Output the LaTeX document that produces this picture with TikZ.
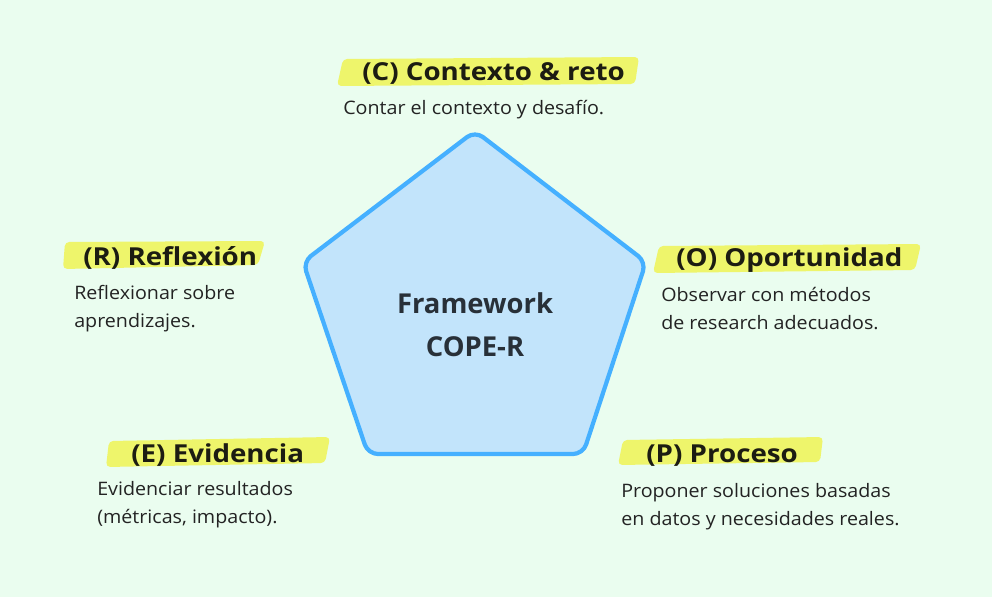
\documentclass[tikz,border=0pt]{standalone}
\usepackage{fontspec}
\setmainfont{Open Sans}
\newfontfamily\headfont{Open Sans}[FakeStretch=1.12]
\newfontfamily\bodyfont{Open Sans}[FakeStretch=1.06]
\definecolor{bgmint}{HTML}{EAFDEF}
\definecolor{pentfill}{HTML}{C2E4FB}
\definecolor{pentline}{HTML}{45B0FF}
\definecolor{marker}{HTML}{EEF56B}
\definecolor{inkdark}{HTML}{1C1C12}
\definecolor{inkdesc}{HTML}{232323}
\definecolor{inkcore}{HTML}{283038}

\begin{document}
\begin{tikzpicture}[x=0.025cm,y=-0.025cm,
  hilite/.style={fill=marker,rounded corners=3pt},
  steptitle/.style={font=\headfont\fontsize{17.6}{19}\selectfont\bfseries,text=inkdark,anchor=base west,inner sep=0pt},
  stepdesc/.style={font=\bodyfont\fontsize{13.2}{19.6}\selectfont,text=inkdesc,anchor=base west,align=left,inner sep=0pt},
  coretext/.style={font=\fontsize{19.5}{31}\selectfont\bfseries,text=inkcore,align=center,inner sep=0pt}]
\fill[bgmint] (0,0) rectangle (992,597);
% pentagon
\draw[fill=pentfill,draw=pentline,line width=3pt,rounded corners=7pt,line join=round]
  (475,131) -- (646,262) -- (583,454) -- (368,454) -- (303,262) -- cycle;
\node[coretext,anchor=base] (core) at (475,313) {Framework};
\node[coretext,anchor=base] (corer) at (475,356) {COPE-R};
% (C)
\fill[hilite] (343,59) -- (639,57) -- (635,84) -- (337,86) -- cycle;
\node[steptitle] (ctitle) at (362,81) {(C) Contexto \& reto};
\node[stepdesc] (cdesc) at (343,115) {Contar el contexto y desafío.};
% (R) -- multi-line nodes sit on their last baseline
\fill[hilite] (65,242) -- (265,241) -- (258,265) -- (63,269) -- cycle;
\node[steptitle] (rtitle) at (83,265) {(R) Reflexión};
\node[stepdesc] (rdesc) at (74,327) {Reflexionar sobre\\aprendizajes.};
% (O)
\fill[hilite] (659,246) -- (921,244) -- (915,270) -- (653,273) -- cycle;
\node[steptitle] (otitle) at (676,266) {(O) Oportunidad};
\node[stepdesc] (odesc) at (661,329) {Observar con métodos\\de research adecuados.};
% (E)
\fill[hilite] (109,441) -- (330,437) -- (325,463) -- (106,467) -- cycle;
\node[steptitle] (etitle) at (131,462) {(E) Evidencia};
\node[stepdesc] (edesc) at (97,523) {Evidenciar resultados\\(métricas, impacto).};
% (P)
\fill[hilite] (623,440) -- (823,437) -- (820,462) -- (618,465) -- cycle;
\node[steptitle] (ptitle) at (646,462) {(P) Proceso};
\node[stepdesc] (pdesc) at (621,525) {Proponer soluciones basadas\\en datos y necesidades reales.};
\end{tikzpicture}
\end{document}
